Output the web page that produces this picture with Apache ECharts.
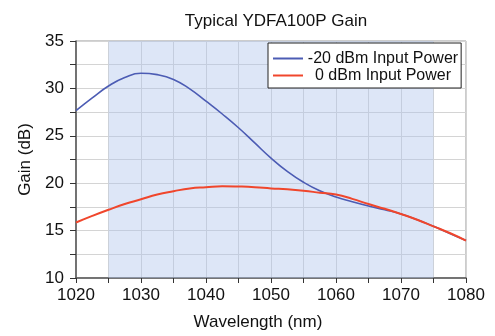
<!DOCTYPE html>
<html><head><meta charset="utf-8">
<script src="https://cdn.jsdelivr.net/npm/echarts@6/dist/echarts.min.js"></script>
<style>html,body{margin:0;padding:0;background:#fff}#c{width:495px;height:336px}</style>
</head><body><div id="c"></div>
<script>
const wavelengths = [1020,1022.5,1025,1027.5,1030,1032.5,1035,1037.5,1040,1042.5,1045,1047.5,1050,1052.5,1055,1057.5,1060,1062.5,1065,1067.5,1070,1072.5,1075,1077.5,1080];
const gainMinus20 = [27.65,29.0,30.25,31.15,31.6,31.45,30.95,29.95,28.65,27.3,25.85,24.25,22.65,21.25,20.1,19.2,18.55,18.05,17.6,17.2,16.75,16.15,15.45,14.7,13.95];
const gain0 = [15.85,16.55,17.2,17.8,18.3,18.8,19.15,19.45,19.58,19.68,19.65,19.58,19.45,19.35,19.2,19.0,18.8,18.35,17.8,17.3,16.75,16.15,15.45,14.75,13.95];
const seriesNames = ['-20 dBm Input Power','0 dBm Input Power'];
const bandRange = [1025,1075];
const titleText = 'Typical YDFA100P Gain';
const xName = 'Wavelength (nm)';
const yName = 'Gain (dB)';

const font = '"Liberation Sans", Arial, sans-serif';
const fs = 17;
const chart = echarts.init(document.getElementById('c'), null, {renderer:'canvas'});
chart.setOption({
  animation:false,
  title:{text:titleText,left:271,top:8,textAlign:'center',textStyle:{fontFamily:font,fontSize:fs,fontWeight:'normal',color:'#111'}},
  grid:{left:76,right:29,top:41,bottom:53,show:true,borderColor:'#999',borderWidth:1,backgroundColor:'transparent'},
  legend:{orient:'vertical',left:268,top:43,backgroundColor:'#fff',borderColor:'#222',borderWidth:1,padding:[7,3,4,5],itemGap:0,itemWidth:30,itemHeight:2,icon:'rect',
    textStyle:{fontFamily:font,fontSize:16,color:'#111',lineHeight:17,
      rich:{a:{fontFamily:font,fontSize:16,color:'#111',width:150,align:'center',lineHeight:17}}},
    formatter:n=>'{a|'+n+'}',
    data:seriesNames},
  xAxis:{type:'value',min:1020,max:1080,interval:10,
    name:xName,nameLocation:'middle',nameGap:36,nameTextStyle:{fontFamily:font,fontSize:fs,color:'#111',padding:[0,26,0,0]},
    axisLine:{show:true,lineStyle:{color:'#555',width:1.5}},
    axisTick:{show:true,length:5,lineStyle:{color:'#333'}},
    minorTick:{show:true,splitNumber:2,length:5,lineStyle:{color:'#333'}},
    axisLabel:{fontFamily:font,fontSize:fs,color:'#111',margin:9,formatter:v=>String(v)},
    splitLine:{show:true,lineStyle:{color:'#d4d4d4'}},
    minorSplitLine:{show:true,lineStyle:{color:'#d4d4d4'}}},
  yAxis:{type:'value',min:10,max:35,interval:5,
    name:yName,nameLocation:'middle',nameGap:38,nameTextStyle:{fontFamily:font,fontSize:fs,color:'#111'},
    axisLine:{show:true,lineStyle:{color:'#555',width:1.5}},
    axisTick:{show:true,length:6,lineStyle:{color:'#333'}},
    minorTick:{show:true,splitNumber:2,length:6,lineStyle:{color:'#333'}},
    axisLabel:{fontFamily:font,fontSize:fs,color:'#111',margin:12,formatter:v=>String(v)},
    splitLine:{show:true,lineStyle:{color:'#d4d4d4'}},
    minorSplitLine:{show:true,lineStyle:{color:'#d4d4d4'}}},
  series:[
    {name:seriesNames[0],type:'line',data:wavelengths.map((x,i)=>[x,gainMinus20[i]]),smooth:0.5,showSymbol:false,symbol:'none',
     color:'#4c5cb4',lineStyle:{color:'#4c5cb4',width:1.6},
     markArea:{silent:true,itemStyle:{color:'rgba(175,195,235,0.42)'},data:[[{xAxis:bandRange[0]},{xAxis:bandRange[1]}]]}},
    {name:seriesNames[1],type:'line',data:wavelengths.map((x,i)=>[x,gain0[i]]),smooth:0.5,showSymbol:false,symbol:'none',
     color:'#f0462c',lineStyle:{color:'#f0462c',width:2}}
  ]
});
</script></body></html>
